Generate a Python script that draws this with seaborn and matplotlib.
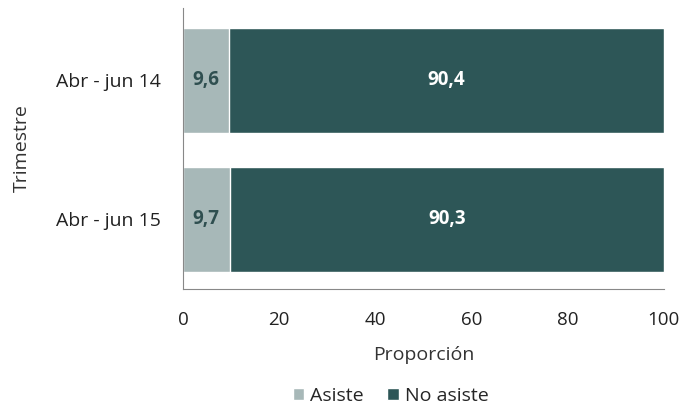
import numpy as np
import pandas as pd
import matplotlib
matplotlib.use("Agg")
import matplotlib.pyplot as plt
import seaborn as sns
from matplotlib.patches import Patch

trimestres = ["Abr - jun 14", "Abr - jun 15"]
asiste = [9.6, 9.7]
no_asiste = [90.4, 90.3]
asiste_lbl = ["9,6", "9,7"]
no_asiste_lbl = ["90,4", "90,3"]

c_light = "#a7b8b8"
c_dark = "#2d5657"

sns.set_style("white")
plt.rcParams["font.family"] = ["Open Sans", "DejaVu Sans"]

df = pd.DataFrame({"Trimestre": trimestres, "Asiste": asiste, "No asiste": no_asiste})
df["Total"] = df["Asiste"] + df["No asiste"]

fig = plt.figure(figsize=(6.83, 4.08), dpi=100)
ax = fig.add_axes([0.268, 0.292, 0.704, 0.688])

sns.barplot(data=df, x="Total", y="Trimestre", color=c_dark, width=0.76,
            saturation=1, ax=ax)
sns.barplot(data=df, x="Asiste", y="Trimestre", color=c_light, width=0.76,
            saturation=1, ax=ax)

for i in range(len(df)):
    ax.text(asiste[i] / 2, i, asiste_lbl[i], ha="center", va="center",
            color="#2f4f50", fontsize=13.5, fontweight="bold")
    ax.text(asiste[i] + no_asiste[i] / 2, i, no_asiste_lbl[i], ha="center",
            va="center", color="white", fontsize=13.5, fontweight="bold")

ax.set_xlim(0, 100)
ax.set_ylim(1.5, -0.52)
ax.set_xticks([0, 20, 40, 60, 80, 100])
ax.tick_params(axis="x", direction="out", length=4, color="#888888",
               labelsize=13.5, pad=12, labelcolor="#222222")
ax.tick_params(axis="y", length=0, labelsize=14, pad=16, labelcolor="#222222")
for s in ["top", "right"]:
    ax.spines[s].set_visible(False)
for s in ["left", "bottom"]:
    ax.spines[s].set_color("#888888")
    ax.spines[s].set_linewidth(0.8)
ax.set_xlabel("Proporción", fontsize=14, labelpad=12, color="#333333")
ax.set_ylabel("Trimestre", fontsize=14, labelpad=18, color="#333333")

handles = [Patch(facecolor=c_light, label="Asiste"),
           Patch(facecolor=c_dark, label="No asiste")]
fig.legend(handles=handles, loc="center", bbox_to_anchor=(0.572, 0.03),
           ncol=2, frameon=False, fontsize=14, handlelength=0.6,
           handleheight=0.6, handletextpad=0.3, columnspacing=1.2)

fig.savefig("out.png", dpi=100)
